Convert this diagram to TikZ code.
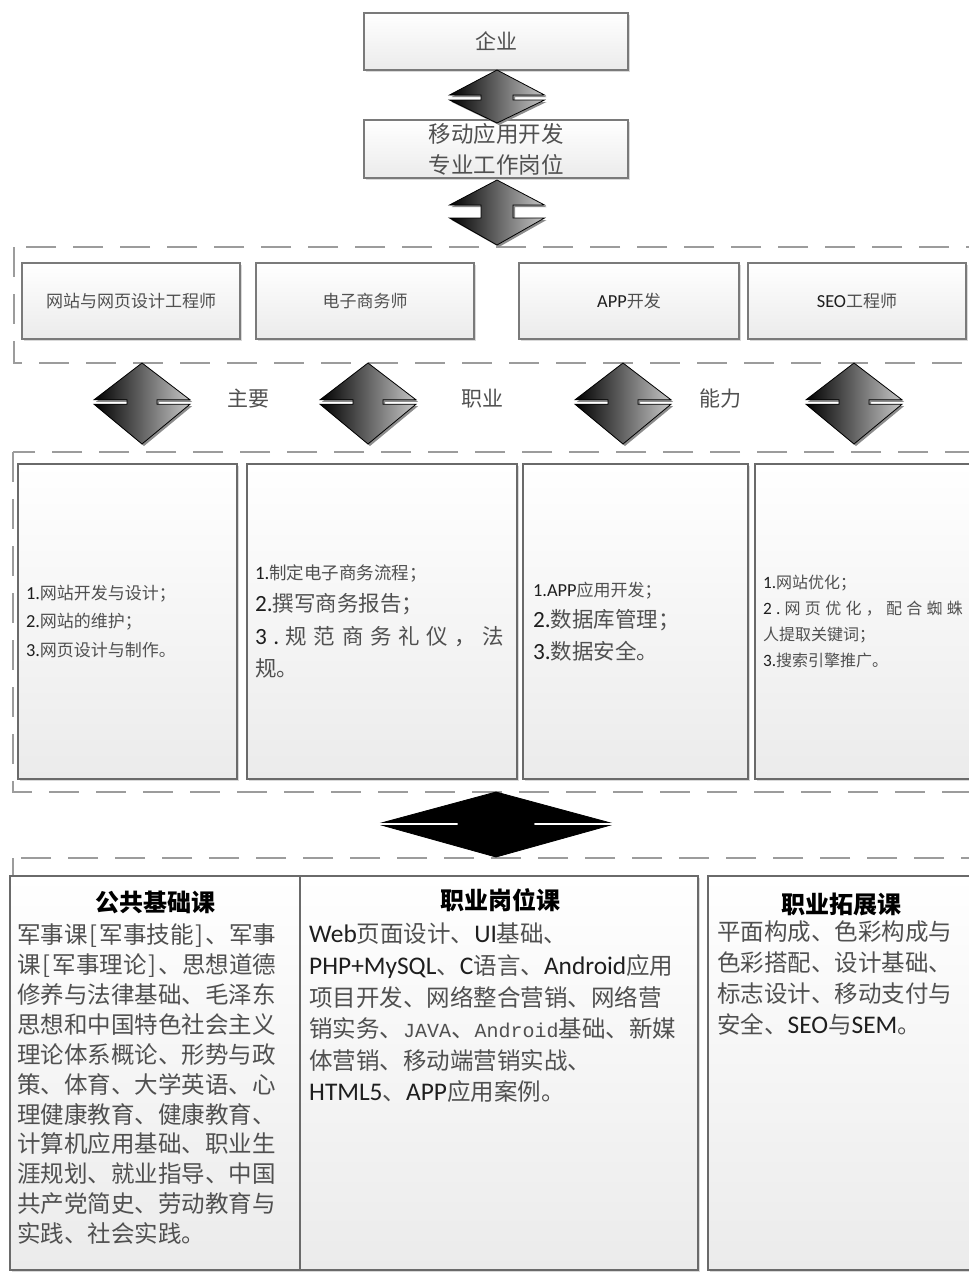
\documentclass[tikz,border=0pt]{standalone}
\usepackage{fontspec}
\setmainfont{Noto Sans CJK SC}
\newfontfamily\lat[Scale=1.08]{Carlito}
\newfontfamily\monofnt[Scale=0.85]{Liberation Mono}
\usetikzlibrary{shadows}
\definecolor{txt}{HTML}{505050}
\definecolor{latc}{HTML}{1E1E1E}
\definecolor{bord}{HTML}{7A7A7A}
\definecolor{bord2}{HTML}{6A6A6A}
\definecolor{dsh}{HTML}{9C9C9C}
\definecolor{boxbot}{HTML}{EBEBEB}
\newcommand\latn[1]{{\lat\color{latc}#1}}
\newcommand\mn[1]{{\monofnt #1}}
\tikzset{
  pics/darr/.style args={#1/#2/#3/#4/#5}{code={
    \path[pic actions] (0,-#2) -- (#1,-#4) -- (#5,-#4) -- (#5,#4) -- (#1,#4) -- (0,#3)
      -- (-#1,#4) -- (-#5,#4) -- (-#5,-#4) -- (-#1,-#4) -- cycle;
  }},
  gbox/.style={draw=bord, line width=1.3pt, top color=white, bottom color=boxbot,
    drop shadow={shadow xshift=1.5pt, shadow yshift=-1.5pt, opacity=.3}, inner sep=0pt},
  rbox/.style={draw=bord2, line width=1.8pt, top color=white, bottom color=boxbot,
    drop shadow={shadow xshift=1.5pt, shadow yshift=-1.5pt, opacity=.3}, inner ysep=0pt},
  dashbox/.style={draw=dsh, line width=2.5pt, dash pattern=on 30pt off 17pt},
  arrsty/.style={draw=black, line width=0.8pt, left color=black, right color=black!22},
  arrshadow/.style={fill=black!45},
  lbl/.style={font=\fontsize{21}{26}\selectfont, text=txt},
  toptxt/.style={font=\fontsize{17}{22}\selectfont, text=txt},
  ttl/.style={font=\fontsize{24}{28}\selectfont\bfseries, text=black},
  body/.style={font=\fontsize{23.5}{30}\selectfont, text=txt, align=left, inner sep=0pt, anchor=north west},
}
\begin{document}
\begin{tikzpicture}[x=1pt,y=-1pt]
\useasboundingbox (0,0) rectangle (969,1278);
\clip (0,0) rectangle (969,1278);

% dashed containers
\draw[dashbox] (14,247) rectangle (1000,363);
\draw[dashbox] (13,452) rectangle (1000,792);
\draw[dashbox] (13,858) rectangle (1000,1300);

% top boxes
\node[gbox, minimum width=264pt, minimum height=57pt, font=\fontsize{21}{26}\selectfont, text=txt] (qiye) at (496,41.5) {企业};
\node[gbox, minimum width=264pt, minimum height=58pt, align=center, font=\fontsize{22.5}{31}\selectfont, text=txt] (gangwei) at (496,149) {移动应用开发\\专业工作岗位};

% arrows between top boxes
\pic[arrshadow] at (499,99.5) {darr=47.5/27.5/25.5/2.5/16};
\pic[arrsty] (a1) at (497,97.5) {darr=47.5/27.5/25.5/2.5/16};
\pic[arrshadow] at (499,213.5) {darr=47.5/31.5/33.5/6.5/16};
\pic[arrsty] (a2) at (497,211.5) {darr=47.5/31.5/33.5/6.5/16};

% row 1 job boxes
\node[gbox, minimum width=218pt, minimum height=76pt, toptxt] (j1) at (131,301) {网站与网页设计工程师};
\node[gbox, minimum width=218pt, minimum height=76pt, toptxt] (j2) at (365,301) {电子商务师};
\node[gbox, minimum width=220pt, minimum height=76pt, toptxt] (j3) at (629,301) {\latn{APP}开发};
\node[gbox, minimum width=218pt, minimum height=76pt, toptxt] (j4) at (857,301) {\latn{SEO}工程师};

% row of diamonds
\foreach \cx/\nm in {142/d1,368/d2,623/d3,854/d4}{
  \pic[arrshadow] at (\cx+2,404) {darr=48/39/42/2.2/15};
  \pic[arrsty] (\nm) at (\cx,402) {darr=48/39/42/2.2/15};
}
\node[lbl] (l1) at (248,399) {主要};
\node[lbl] (l2) at (482,399) {职业};
\node[lbl] (l3) at (720,399) {能力};

% row 2 ability boxes
\node[rbox, minimum width=219pt, minimum height=315pt, text width=203pt, inner xsep=8pt, align=left,
      font=\fontsize{17}{28.5}\selectfont, text=txt] (c1) at (127.5,621.5)
  {\latn{1.}网站开发与设计；\\\latn{2.}网站的维护；\\\latn{3.}网页设计与制作。};
\node[rbox, minimum width=270pt, minimum height=315pt, text width=254pt, inner xsep=8pt, align=left,
      font=\fontsize{21.5}{32.5}\selectfont, text=txt] (c2) at (382,621.5)
  {{\fontsize{17.5}{32.5}\selectfont\latn{1.}制定电子商务流程；}\\
   \latn{2.}撰写商务报告；\\
   \leavevmode\hbox to 249pt{\latn{3}\hfil\latn{.}\hfil 规\hfil 范\hfil 商\hfil 务\hfil 礼\hfil 仪\hfil ，\hfil 法}\\
   规。};
\node[rbox, minimum width=225pt, minimum height=315pt, text width=205pt, inner xsep=10pt, align=left,
      font=\fontsize{21.5}{31.5}\selectfont, text=txt] (c3) at (635.5,621.5)
  {{\fontsize{17}{31.5}\selectfont\latn{1.APP}应用开发；}\\
   \latn{2.}数据库管理；\\
   \latn{3.}数据安全。};
\node[rbox, minimum width=230pt, minimum height=315pt, text width=214pt, inner xsep=8pt, align=left,
      font=\fontsize{16}{26}\selectfont, text=txt] (c4) at (870,621.5)
  {\latn{1.}网站优化；\\
   \leavevmode\hbox to 200pt{\latn{2}\hfil\latn{.}\hfil 网\hfil 页\hfil 优\hfil 化\hfil ，\hfil 配\hfil 合\hfil 蜘\hfil 蛛}\\
   人提取关键词；\\
   \latn{3.}搜索引擎推广。};

% big black arrow
\pic[draw=black, fill=black, line width=0.8pt] (big) at (496,824) {darr=113/32/33/1.5/38};

% bottom course boxes
\node[rbox, minimum width=290pt, minimum height=394pt] (k1) at (155,1073) {};
\node[rbox, minimum width=398pt, minimum height=394pt] (k2) at (499,1073) {};
\node[rbox, minimum width=277pt, minimum height=394pt] (k3) at (846.5,1073) {};

\node[ttl] (t1) at (155,902) {公共基础课};
\node[ttl] (t2) at (500,900) {职业岗位课};
\node[ttl] (t3) at (841,904) {职业拓展课};

\node[body, text width=285pt] (b1) at (17,923)
  {军事课\makebox[12pt]{[}军事技能\makebox[12pt]{]}、军事\\
   课\makebox[12pt]{[}军事理论\makebox[12pt]{]}、思想道德\\
   修养与法律基础、毛泽东\\
   思想和中国特色社会主义\\
   理论体系概论、形势与政\\
   策、体育、大学英语、心\\
   理健康教育、健康教育、\\
   计算机应用基础、职业生\\
   涯规划、就业指导、中国\\
   共产党简史、劳动教育与\\
   实践、社会实践。};
\node[body, text width=385pt, font=\fontsize{23.5}{31.6}\selectfont] (b2) at (309,923)
  {\latn{Web}页面设计、\latn{UI}基础、\\
   \latn{PHP+MySQL}、\latn{C}语言、\latn{Android}应用\\
   项目开发、网络整合营销、网络营\\
   销实务、\mn{JAVA}、\mn{Android}基础、新媒\\
   体营销、移动端营销实战、\\
   \latn{HTML5}、\latn{APP}应用案例。};
\node[body, text width=255pt, font=\fontsize{23.5}{31}\selectfont] (b3) at (717,920)
  {平面构成、色彩构成与\\
   色彩搭配、设计基础、\\
   标志设计、移动支付与\\
   安全、\latn{SEO}与\latn{SEM}。};
\end{tikzpicture}
\end{document}
